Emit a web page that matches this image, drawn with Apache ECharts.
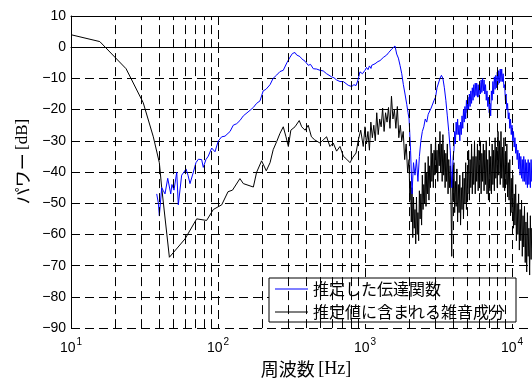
<!DOCTYPE html>
<html>
<head>
<meta charset="utf-8">
<script src="https://cdn.jsdelivr.net/npm/echarts@6/dist/echarts.min.js"></script>
<style>
  html, body { margin: 0; padding: 0; background: #fff; }
  #chart { width: 532px; height: 383px; }
</style>
</head>
<body>
<div id="chart"></div>
<script>
// [周波数 Hz, dB]
const transferData = [
  [38.3, -47], [39.3, -50], [39.9, -54], [41.4, -45], [42.5, -46], [43.6, -47], [45.5, -42],
  [47.7, -47], [48.6, -44], [50.2, -45.8], [52.4, -40], [53.7, -50.5], [54.7, -51], [56.6, -41],
  [58.7, -40], [60.6, -39], [62.5, -41], [64.5, -43.7], [68, -40], [70.8, -37], [73.5, -35.9],
  [77.4, -36], [79.4, -38.5], [82.8, -36], [85.9, -34.9], [90.6, -32.3], [95.4, -33.5],
  [100.5, -30], [106, -28.7], [111.6, -28.5], [120.8, -27], [127, -25], [134, -24.5], [141, -23.5],
  [148.7, -22], [152.7, -22], [162.5, -20.5], [174, -19.3], [183, -18], [193, -17.2], [203, -14],
  [212, -13.5], [226, -12], [237, -10], [251, -8.9], [264, -7.8], [278, -7.4], [294, -5],
  [309, -3.2], [321, -2], [334, -1.7], [343, -2.5], [352, -2.7], [361, -3], [371, -3.7],
  [380, -3.5], [391, -4.5], [411, -5.8], [426, -5.5], [445, -6.9], [469, -7], [494, -7.4],
  [520, -7.6], [548, -8.5], [562, -8.9], [593, -9.5], [615, -9.8], [641, -10.5], [676, -11],
  [712, -11], [731, -11.5], [769, -12.2], [812, -12.6], [841, -12], [869, -12.3], [896, -10.5],
  [924, -7.9], [961, -8.5], [1000, -7.4], [1024, -6.5], [1048, -7.2], [1072, -6], [1098, -6.8],
  [1111, -5.8], [1140, -6.2], [1170, -5.3], [1198, -5.9], [1225, -4.6], [1250, -5.2], [1265, -4.3],
  [1300, -4.4], [1331, -3.3], [1370, -3.8], [1405, -2.5], [1430, -2.9], [1456, -1.6], [1490, -1.9],
  [1520, -0.6], [1564, -0.2], [1600, 0.4],
  [1643, -2.2], [1687, -3.5], [1731, -5.8], [1778, -8.5], [1824, -12], [1872, -15], [1923, -18.3],
  [1963, -21],
  [1995, -23], [2042, -33], [2089, -47], [2138, -37], [2188, -41], [2239, -36], [2291, -43],
  [2344, -35], [2399, -30], [2455, -27], [2512, -25.5], [2570, -23], [2630, -24], [2692, -21.5],
  [2754, -22], [2818, -19.5], [2884, -20], [2951, -17], [3020, -16], [3090, -13], [3162, -13],
  [3236, -10], [3311, -9], [3388, -10], [3467, -13], [3548, -17], [3631, -22], [3715, -27],
  [3802, -33], [3846, -39], [3890, -45], [3936, -40], [3981, -35], [4027, -33], [4074, -27],
  [4121, -31], [4169, -24], [4217, -28], [4266, -23], [4315, -28], [4365, -25], [4416, -30],
  [4467, -24], [4519, -28], [4571, -22], [4624, -26], [4677, -20], [4732, -24], [4786, -19],
  [4842, -23], [4898, -17], [4955, -21], [5012, -16], [5070, -20], [5129, -15], [5188, -19],
  [5248, -14], [5309, -18], [5370, -13], [5433, -17], [5495, -12], [5559, -16], [5623, -11.5],
  [5689, -15.5], [5754, -11.5], [5821, -16], [5888, -12], [5957, -16], [6026, -11.5], [6095, -15],
  [6166, -10.5], [6237, -14.5], [6310, -10], [6383, -14], [6457, -10.5], [6531, -15], [6607, -12],
  [6683, -17], [6761, -14], [6839, -19], [6918, -16], [6998, -21], [7079, -18], [7161, -22],
  [7244, -14], [7328, -17], [7413, -11], [7499, -15], [7586, -9.5], [7674, -13.5], [7762, -9],
  [7852, -13], [7943, -8], [8035, -12], [8128, -7.5], [8222, -11.5], [8318, -7], [8414, -11],
  [8511, -7], [8610, -11], [8710, -8.5], [8810, -13], [8913, -12], [9016, -17], [9120, -15],
  [9226, -20], [9333, -18], [9441, -23], [9550, -21], [9661, -26], [9772, -23], [9886, -28],
  [10000, -25], [10116, -30], [10233, -27], [10351, -32], [10471, -29], [10593, -34], [10715, -31],
  [10839, -36], [10965, -33], [11092, -39], [11220, -34], [11350, -41], [11482, -35], [11614, -42],
  [11749, -36], [11885, -43], [12023, -35], [12162, -43], [12303, -36], [12445, -44], [12589, -37],
  [12735, -45], [12882, -36], [13032, -44], [13183, -37], [13335, -45], [13490, -36], [13646, -43],
  [13804, -38]
];

const noiseData = [
  [10, 4], [15.7, 1.8], [23.7, -6.9], [31, -17.8], [36.3, -28.7], [39.9, -37], [41.4, -45],
  [46.7, -67.3], [59.7, -61.4], [71.6, -55], [83.7, -55.5], [92.9, -52], [106, -50.5],
  [117, -46.3], [125.5, -45.8], [141, -42.1], [148.7, -43.7], [174, -44.8], [183, -40.1],
  [198, -36.4], [213, -39.6], [226, -37], [237.5, -32.8], [251, -30.2], [264, -27.6],
  [278, -25.5], [290, -28.7], [301, -31.8], [313, -26.6], [334, -25.5], [357, -23.5],
  [371, -25.5], [391, -26.6], [411, -25], [432, -28.7], [455, -29.7], [494, -30.7], [520, -29.7],
  [548, -28.7], [577, -31.8], [608, -30.7], [641, -33.3], [676, -31.8], [712, -34.9], [751, -35.9],
  [791, -37], [824, -35.4], [869, -33.9], [901, -29.7], [935, -26.6], [973, -31.8],
  [1000, -25.5], [1023, -31], [1047, -27], [1072, -33], [1096, -24], [1122, -29], [1148, -25],
  [1175, -30], [1202, -21], [1230, -28], [1259, -23], [1288, -25.5], [1318, -19.5], [1349, -27],
  [1380, -21], [1413, -24], [1445, -19.3], [1479, -26], [1514, -15.7], [1549, -23], [1585, -20],
  [1622, -26], [1660, -19], [1698, -29], [1738, -25], [1778, -30], [1820, -27], [1862, -36],
  [1905, -31], [1950, -40],
  [1995, -36], [2018, -49], [2042, -43], [2065, -56], [2089, -45], [2113, -61], [2138, -48],
  [2163, -58], [2188, -52], [2213, -63], [2239, -48], [2265, -60], [2291, -53], [2317, -62],
  [2344, -46], [2371, -55], [2399, -47], [2427, -57], [2455, -41], [2483, -52], [2512, -44],
  [2541, -50], [2570, -37], [2600, -51], [2630, -40], [2661, -47], [2692, -35], [2723, -49],
  [2754, -38], [2786, -45], [2818, -31], [2851, -43], [2884, -34], [2917, -45], [2951, -33],
  [2985, -41], [3020, -29], [3055, -40], [3090, -33], [3126, -43], [3162, -31], [3199, -38],
  [3236, -27], [3273, -40], [3311, -31], [3350, -43], [3388, -28], [3428, -41], [3467, -33],
  [3508, -45], [3548, -34], [3589, -43], [3631, -31], [3673, -47], [3715, -36], [3758, -45],
  [3802, -38], [3846, -50], [3890, -67], [3936, -40], [3981, -49], [4027, -37], [4074, -53],
  [4121, -43], [4169, -51], [4217, -39], [4266, -56], [4315, -44], [4365, -53], [4416, -41],
  [4467, -57], [4519, -45], [4571, -52], [4624, -40], [4677, -55], [4732, -42], [4786, -50],
  [4842, -37], [4898, -52], [4955, -40], [5012, -47], [5070, -33], [5129, -49], [5188, -36],
  [5248, -45], [5309, -31], [5370, -47], [5433, -35], [5495, -44], [5559, -30], [5623, -47],
  [5689, -35], [5754, -43], [5821, -31], [5888, -46], [5957, -33], [6026, -43], [6095, -30],
  [6166, -47], [6237, -34], [6310, -43], [6383, -31], [6457, -46], [6531, -33], [6607, -44],
  [6683, -30], [6761, -47], [6839, -36], [6918, -49], [6998, -33], [7079, -46], [7161, -35],
  [7244, -47], [7328, -31], [7413, -44], [7499, -33], [7586, -46], [7674, -29], [7762, -42],
  [7852, -32], [7943, -45], [8035, -27], [8128, -41], [8222, -30], [8318, -44], [8414, -27],
  [8511, -42], [8610, -32], [8710, -45], [8810, -29], [8913, -46], [9016, -34], [9120, -44],
  [9226, -31], [9333, -48], [9441, -37], [9550, -49], [9661, -36], [9772, -54], [9886, -42],
  [10000, -53], [10116, -41], [10233, -58], [10351, -47], [10471, -57], [10593, -44], [10715, -62],
  [10839, -50], [10965, -60], [11092, -47], [11220, -65], [11350, -52], [11482, -62], [11614, -49],
  [11749, -67], [11885, -54], [12023, -64], [12162, -51], [12303, -69], [12445, -56], [12589, -72],
  [12735, -53], [12882, -67], [13032, -58], [13183, -73], [13335, -54], [13490, -68], [13646, -58],
  [13804, -65]
];

const minorFreqs = [20, 30, 40, 50, 60, 70, 80, 90, 200, 300, 400, 500, 600, 700, 800, 900,
  2000, 3000, 4000, 5000, 6000, 7000, 8000, 9000];

const seriesNames = ['推定した伝達関数', '推定値に含まれる雑音成分'];

const sans = 'Liberation Sans, Arial, sans-serif';
const cjk = 'Noto Sans CJK JP';
const serif = 'Liberation Serif, Times New Roman, serif';
const dash = [9, 5];

const chart = echarts.init(document.getElementById('chart'));

const isPow10 = v => Math.abs(Math.log10(v) - Math.round(Math.log10(v))) < 1e-6;

const option = {
  animation: false,
  backgroundColor: '#fff',
  grid: { left: 71, right: 0, top: 16, bottom: 46 },
  legend: {
    data: seriesNames.map(n => ({ name: n, icon: 'rect' })),
    orient: 'vertical',
    left: 269,
    top: 278,
    padding: [3, 11, 2, 6],
    itemWidth: 33,
    itemHeight: 1,
    itemGap: 7,
    backgroundColor: '#fff',
    borderColor: '#000',
    borderWidth: 1,
    borderRadius: 0,
    textStyle: { fontFamily: cjk, fontSize: 16, color: '#000' }
  },
  xAxis: [
    {
      type: 'log',
      min: 10,
      max: 13680,
      logBase: 10,
      name: '{j|周波数} {r|[Hz]}',
      nameLocation: 'middle',
      nameGap: 27,
      nameTextStyle: {
        padding: [0, 0, 0, 9],
        rich: {
          j: { fontFamily: cjk, fontSize: 18, color: '#000' },
          r: { fontFamily: serif, fontSize: 18, color: '#000' }
        }
      },
      axisLine: { show: true, lineStyle: { color: '#000', width: 1 } },
      axisTick: { show: true, inside: true, length: 5, lineStyle: { color: '#000' } },
      axisLabel: {
        margin: 9,
        showMaxLabel: false,
        formatter: v => isPow10(v) ? '{b|10}{s|' + Math.round(Math.log10(v)) + '}' : '',
        rich: {
          b: { fontFamily: sans, fontSize: 14, color: '#000', lineHeight: 18, verticalAlign: 'bottom' },
          s: { fontFamily: sans, fontSize: 10, color: '#000', verticalAlign: 'top', padding: [0, 0, 0, 1] }
        }
      },
      splitLine: { show: true, showMaxLine: false, lineStyle: { color: '#000', type: dash, width: 1 } }
    },
    {
      type: 'log',
      position: 'top',
      min: 10,
      max: 13680,
      logBase: 10,
      axisLine: { show: true, lineStyle: { color: '#000', width: 1 } },
      axisTick: { show: true, inside: true, length: 5, lineStyle: { color: '#000' } },
      axisLabel: { show: false },
      splitLine: { show: false }
    }
  ],
  yAxis: {
    type: 'value',
    min: -90,
    max: 10,
    interval: 10,
    name: '{j|パワー} {r|[dB]}',
    nameLocation: 'middle',
    nameGap: 37,
    nameTextStyle: {
      padding: [0, 0, 0, 21],
      rich: {
        j: { fontFamily: cjk, fontSize: 17, color: '#000' },
        r: { fontFamily: serif, fontSize: 17, color: '#000' }
      }
    },
    axisLine: { show: true, lineStyle: { color: '#000', width: 1 } },
    axisTick: { show: true, inside: true, length: 5, lineStyle: { color: '#000' } },
    axisLabel: {
      margin: 5,
      fontFamily: sans,
      fontSize: 14,
      color: '#000',
      formatter: v => String(v).replace('-', '\u2212')
    },
    splitLine: { show: true, lineStyle: { color: '#000', type: dash, width: 1 } }
  },
  series: [
    {
      name: 'grid',
      type: 'line',
      data: [],
      z: 1,
      silent: true,
      markLine: {
        silent: true,
        symbol: ['none', 'none'],
        label: { show: false },
        lineStyle: { color: '#000', type: dash, width: 1 },
        data: minorFreqs.map(f => ({ xAxis: f }))
      }
    },
    {
      name: seriesNames[0],
      type: 'line',
      data: transferData,
      showSymbol: false,
      symbol: 'none',
      z: 3,
      lineStyle: { color: '#0000ff', width: 1 },
      itemStyle: { color: '#0000ff' }
    },
    {
      name: seriesNames[1],
      type: 'line',
      data: noiseData,
      showSymbol: false,
      symbol: 'none',
      z: 2,
      lineStyle: { color: '#000', width: 1 },
      itemStyle: { color: '#000' }
    }
  ]
};

chart.setOption(option);
</script>
</body>
</html>
